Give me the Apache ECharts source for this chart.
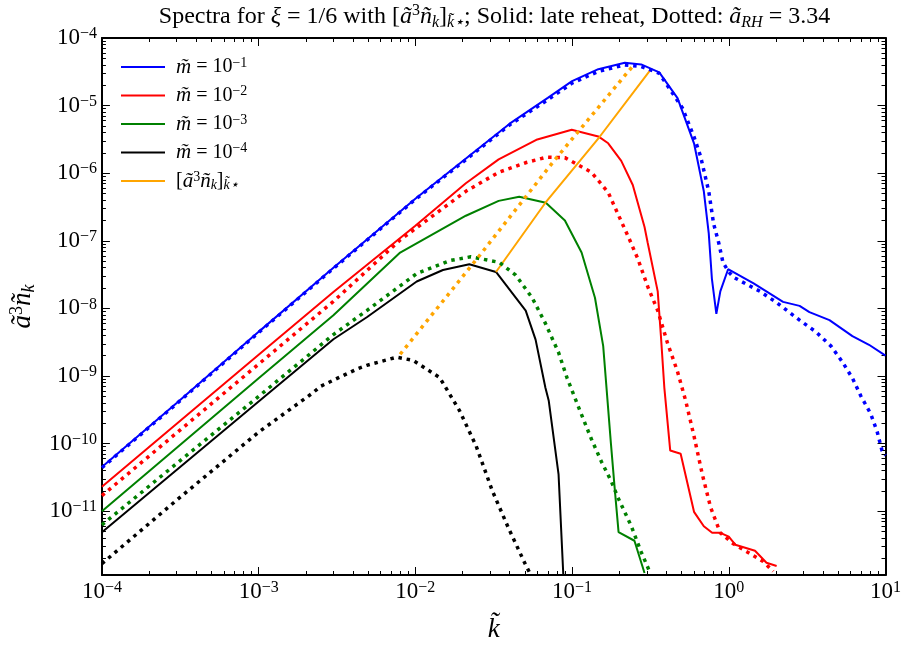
<!DOCTYPE html>
<html>
<head>
<meta charset="utf-8">
<script src="https://cdn.jsdelivr.net/npm/echarts@6/dist/echarts.min.js"></script>
<style>html,body{margin:0;padding:0;background:#fff;}#c{width:904px;height:648px;}</style>
</head>
<body>
<div id="c"></div>
<script>
// ---------------- data ----------------
const kBlueSolid = [1e-4, 3e-4, 1e-3, 3e-3, 1e-2, 2e-2, 4e-2, 0.07, 0.1, 0.147, 0.217, 0.276, 0.36, 0.471, 0.6, 0.693, 0.745, 0.78, 0.833, 0.883, 0.99, 1.44, 2.22, 2.83, 3.27, 4.39, 6.15, 7.85, 10];
const nBlueSolid = [4.5e-11, 4.0e-10, 4.5e-9, 4.0e-8, 4.2e-7, 1.5e-6, 5.4e-6, 1.3e-5, 2.3e-5, 3.46e-5, 4.3e-5, 4.07e-5, 3.1e-5, 1.29e-5, 2.77e-6, 5.4e-7, 1.29e-7, 2.77e-8, 8.3e-9, 1.79e-8, 3.8e-8, 2.35e-8, 1.25e-8, 1.09e-8, 8.8e-9, 6.7e-9, 3.9e-9, 2.9e-9, 2.0e-9];

const kBlueDot = [1e-4, 3e-4, 1e-3, 3e-3, 1e-2, 2e-2, 4e-2, 0.07, 0.1, 0.147, 0.217, 0.276, 0.36, 0.506, 0.6, 0.66, 0.745, 0.80, 0.863, 0.918, 1.0, 1.07, 1.58, 2.02, 2.83, 3.6, 4.49, 5.32, 6.15, 6.95, 8.04, 8.85, 9.5, 10];
const nBlueDot = [4.4e-11, 3.9e-10, 4.4e-9, 3.9e-8, 4.1e-7, 1.45e-6, 5.2e-6, 1.22e-5, 2.15e-5, 3.2e-5, 4.0e-5, 3.8e-5, 3.0e-5, 9.2e-6, 3.46e-6, 1.79e-6, 5.4e-7, 1.79e-7, 9.3e-8, 4.8e-8, 3.46e-8, 2.9e-8, 1.79e-8, 1.22e-8, 6.7e-9, 4.5e-9, 2.77e-9, 1.6e-9, 9.3e-10, 5.1e-10, 2.77e-10, 1.5e-10, 7.9e-11, 6.7e-11];

const kRedSolid = [1e-4, 3e-4, 1e-3, 3e-3, 1e-2, 0.021, 0.034, 0.06, 0.0995, 0.147, 0.17, 0.206, 0.244, 0.29, 0.304, 0.352, 0.369, 0.388, 0.423, 0.493, 0.6, 0.693, 0.783, 0.883, 1.0, 1.1, 1.47, 1.74, 2.02];
const nRedSolid = [2.3e-11, 1.97e-10, 2.07e-9, 1.75e-8, 1.67e-7, 7.1e-7, 1.6e-6, 3.16e-6, 4.4e-6, 3.5e-6, 2.77e-6, 1.52e-6, 6.7e-7, 1.6e-7, 9.3e-8, 1.79e-8, 3.9e-9, 6.7e-10, 7.9e-11, 7.1e-11, 9.8e-12, 6.0e-12, 4.8e-12, 4.8e-12, 4.2e-12, 3.2e-12, 2.6e-12, 1.73e-12, 1.55e-12];

const kRedDot = [1e-4, 1e-3, 3e-3, 0.008, 0.021, 0.034, 0.051, 0.069, 0.09, 0.133, 0.17, 0.196, 0.228, 0.263, 0.304, 0.352, 0.406, 0.471, 0.531, 0.6, 0.678, 0.764, 0.883, 1.07, 1.44, 1.66, 1.92];
const nRedDot = [1.7e-11, 1.5e-9, 1.27e-8, 1.03e-7, 5.4e-7, 1.03e-6, 1.44e-6, 1.73e-6, 1.7e-6, 1.03e-6, 5.2e-7, 2.5e-7, 1.16e-7, 5.4e-8, 2.1e-8, 9.3e-9, 3.1e-9, 1.16e-9, 4.3e-10, 1.29e-10, 3.5e-11, 1.16e-11, 4.8e-12, 3.3e-12, 2.2e-12, 1.8e-12, 1.29e-12];

const kGreenSolid = [1e-4, 1e-3, 3e-3, 0.008, 0.021, 0.034, 0.046, 0.068, 0.09, 0.115, 0.14, 0.158, 0.177, 0.187, 0.198, 0.25, 0.29];
const nGreenSolid = [1.0e-11, 9.3e-10, 7.9e-9, 6.7e-8, 2.35e-7, 3.9e-7, 4.5e-7, 3.65e-7, 2.0e-7, 6.7e-8, 1.44e-8, 2.77e-9, 1.0e-10, 2.2e-11, 4.9e-12, 3.66e-12, 1.22e-12];

const kGreenDot = [1e-4, 1e-3, 3e-3, 0.0049, 0.0102, 0.0166, 0.0226, 0.0343, 0.0437, 0.0556, 0.0676, 0.082, 0.093, 0.11, 0.133, 0.154, 0.178, 0.196, 0.239, 0.276, 0.312];
const nGreenDot = [6.3e-12, 5.0e-10, 4.1e-9, 9.3e-9, 3.27e-8, 5.1e-8, 5.8e-8, 4.8e-8, 3.1e-8, 1.44e-8, 6.0e-9, 2.23e-9, 9.3e-10, 3.46e-10, 1.16e-10, 5.4e-11, 2.77e-11, 1.6e-11, 6.0e-12, 2.5e-12, 1.29e-12];

const kBlackSolid = [1e-4, 1e-3, 3e-3, 0.0049, 0.0102, 0.015, 0.0221, 0.0327, 0.0506, 0.0585, 0.0676, 0.071, 0.082, 0.088];
const nBlackSolid = [4.9e-12, 4.2e-10, 3.5e-9, 7.4e-9, 2.5e-8, 3.7e-8, 4.5e-8, 3.46e-8, 9.3e-9, 3.46e-9, 6.7e-10, 4.3e-10, 3.5e-11, 1.1e-12];

const kBlackDot = [1e-4, 3e-4, 1e-3, 0.00216, 0.0025, 0.0043, 0.0049, 0.0076, 0.0097, 0.0143, 0.0191, 0.0244, 0.031, 0.0396, 0.0506, 0.055];
const nBlackDot = [1.68e-12, 1.46e-11, 1.48e-10, 5.4e-10, 7.1e-10, 1.29e-9, 1.44e-9, 1.9e-9, 1.7e-9, 9.5e-10, 3.1e-10, 9.3e-11, 2.0e-11, 5.4e-12, 1.6e-12, 1.1e-12];

const kStarSolid = [0.0327, 0.0676, 0.150, 0.319];
const nStarSolid = [3.46e-8, 3.66e-7, 3.46e-6, 3.46e-5];

const kStarDot = [0.0080, 0.025, 0.078, 0.244];
const nStarDot = [2.1e-9, 5.6e-8, 1.6e-6, 3.85e-5];

const xMajorTicks = [1e-4, 1e-3, 1e-2, 1e-1, 1, 10];
const yMajorTicks = [1e-11, 1e-10, 1e-9, 1e-8, 1e-7, 1e-6, 1e-5, 1e-4];
const legendNames = ['m1', 'm2', 'm3', 'm4', 'star'];
const legendLabels = ['{i|m\u0303} = 10{sup|\u22121}', '{i|m\u0303} = 10{sup|\u22122}', '{i|m\u0303} = 10{sup|\u22123}', '{i|m\u0303} = 10{sup|\u22124}', '[{i|\u00e3}{sup|3}{i|\u00f1}{sub|k}]{sub|k\u0303\u22c6}'];

// ---------------- chart ----------------
const FONT = '"Liberation Serif", "DejaVu Serif", serif';
const X_MIN = 1e-4, X_MAX = 10, Y_MIN = 1.14e-12, Y_MAX = 1e-4;

function minorTicks(d0, d1, lo, hi) {
  const out = [];
  for (let d = d0; d <= d1; d++) for (let m = 2; m <= 9; m++) {
    const v = m * Math.pow(10, d);
    if (v >= lo && v <= hi) out.push(v);
  }
  return out;
}
const xMinorTicks = minorTicks(-4, 0, X_MIN, X_MAX);
const yMinorTicks = minorTicks(-12, -5, Y_MIN, Y_MAX);

function powLabel(v) {
  const e = Math.round(Math.log10(v));
  return '10{sup|' + (e < 0 ? '\u2212' + (-e) : String(e)) + '}';
}
const tickRich = {
  sup: { fontFamily: FONT, fontSize: 16, lineHeight: 16, verticalAlign: 'top', color: '#000' }
};
const pairs = (ks, vs) => ks.map((k, i) => [k, vs[i]]);

function xAx(pos, major, showLine, showLabel) {
  return {
    type: 'log', logBase: 10, min: X_MIN, max: X_MAX, position: pos, gridIndex: 0,
    splitLine: { show: false },
    axisLine: { show: showLine, onZero: false, lineStyle: { color: '#000', width: 2 } },
    axisTick: { show: true, inside: true, length: major ? 8 : 4, lineStyle: { color: '#000', width: 1 },
                customValues: major ? xMajorTicks : xMinorTicks },
    axisLabel: showLabel ? { show: true, customValues: xMajorTicks, formatter: powLabel, margin: 5,
                fontFamily: FONT, fontSize: 23, lineHeight: 24, color: '#000', rich: tickRich } : { show: false },
    name: showLabel ? '{i|k\u0303}' : '', nameLocation: 'middle', nameGap: 41,
    nameTextStyle: { fontFamily: FONT, fontSize: 24, color: '#000',
                     rich: { i: { fontFamily: FONT, fontSize: 27, fontStyle: 'italic', color: '#000' } } }
  };
}
function yAx(pos, major, showLine, showLabel) {
  return {
    type: 'log', logBase: 10, min: Y_MIN, max: Y_MAX, position: pos, gridIndex: 0,
    splitLine: { show: false },
    axisLine: { show: showLine, onZero: false, lineStyle: { color: '#000', width: 2 } },
    axisTick: { show: true, inside: true, length: major ? 8 : 4, lineStyle: { color: '#000', width: 1 },
                customValues: major ? yMajorTicks : yMinorTicks },
    axisLabel: showLabel ? { show: true, customValues: yMajorTicks, formatter: powLabel, margin: 5,
                fontFamily: FONT, fontSize: 23, lineHeight: 24, color: '#000', rich: tickRich } : { show: false },
    name: showLabel ? '{i|\u00e3}{sup|3}{i|\u00f1}{sub|k}' : '', nameLocation: 'middle', nameGap: 60, nameRotate: 90,
    nameTextStyle: { fontFamily: FONT, fontSize: 24, color: '#000',
      rich: {
        i: { fontFamily: FONT, fontSize: 27, fontStyle: 'italic', color: '#000', lineHeight: 30 },
        sup: { fontFamily: FONT, fontSize: 18, lineHeight: 18, verticalAlign: 'top', color: '#000' },
        sub: { fontFamily: FONT, fontSize: 18, fontStyle: 'italic', lineHeight: 18, verticalAlign: 'bottom', color: '#000' }
      } }
  };
}

const SOLID = (c) => ({ color: c, width: 2, type: 'solid' });
const DOT = (c) => ({ color: c, width: 3.5, type: [3.5, 4.8], cap: 'butt' });
function line(name, ks, vs, color, dotted) {
  return {
    name: name, type: 'line', xAxisIndex: 0, yAxisIndex: 0,
    data: pairs(ks, vs), symbol: 'none', showSymbol: false, smooth: false,
    color: color, lineStyle: dotted ? DOT(color) : SOLID(color),
    clip: true, silent: true, animation: false, z: dotted ? 3 : 2
  };
}

const textRich = {
  i: { fontFamily: FONT, fontSize: 21, fontStyle: 'italic', color: '#000', lineHeight: 22 },
  sup: { fontFamily: FONT, fontSize: 14, lineHeight: 14, verticalAlign: 'top', color: '#000' },
  sub: { fontFamily: FONT, fontSize: 14, fontStyle: 'italic', lineHeight: 14, verticalAlign: 'bottom', color: '#000' }
};

const chart = echarts.init(document.getElementById('c'), null, { renderer: 'canvas' });
chart.setOption({
  animation: false,
  backgroundColor: '#fff',
  grid: { left: 99, right: 14, top: 38, bottom: 55, containLabel: false },
  xAxis: [xAx('bottom', true, true, true), xAx('top', true, true, false), xAx('bottom', false, false, false), xAx('top', false, false, false)],
  yAxis: [yAx('left', true, true, true), yAx('right', true, true, false), yAx('left', false, false, false), yAx('right', false, false, false)],
  legend: {
    data: legendNames, orient: 'vertical', left: 116, top: 51, itemGap: 6.5,
    itemWidth: 44, itemHeight: 14, icon: 'path://M0,6 L44,6 L44,8 L0,8 Z',
    formatter: (n) => legendLabels[legendNames.indexOf(n)],
    textStyle: { fontFamily: FONT, fontSize: 20, color: '#000', lineHeight: 22, padding: [0, 0, 0, 6], rich: textRich },
    selectedMode: false
  },
  graphic: [{
    type: 'text', x: 494.5, y: 3, silent: true,
    style: {
      text: 'Spectra for {i|\u03be} = 1/6 with [{i|\u00e3}{sup|3}{i|\u00f1}{sub|k}]{sub|k\u0303\u22c6}; Solid: late reheat, Dotted: {i|\u00e3}{sub|RH} = 3.34',
      font: '24px ' + FONT, fill: '#000', align: 'center', verticalAlign: 'top', lineHeight: 28,
      rich: {
        i: { fontFamily: FONT, fontSize: 24, fontStyle: 'italic', fill: '#000', lineHeight: 28 },
        sup: { fontFamily: FONT, fontSize: 16, lineHeight: 16, verticalAlign: 'top', fill: '#000' },
        sub: { fontFamily: FONT, fontSize: 16, fontStyle: 'italic', lineHeight: 16, verticalAlign: 'bottom', fill: '#000' }
      }
    }
  }],
  series: [
    line('m1', kBlueSolid, nBlueSolid, '#0000ff', false),
    line('m1d', kBlueDot, nBlueDot, '#0000ff', true),
    line('m2', kRedSolid, nRedSolid, '#ff0000', false),
    line('m2d', kRedDot, nRedDot, '#ff0000', true),
    line('m3', kGreenSolid, nGreenSolid, '#008000', false),
    line('m3d', kGreenDot, nGreenDot, '#008000', true),
    line('m4', kBlackSolid, nBlackSolid, '#000000', false),
    line('m4d', kBlackDot, nBlackDot, '#000000', true),
    line('star', kStarSolid, nStarSolid, '#ffa500', false),
    line('stard', kStarDot, nStarDot, '#ffa500', true)
  ]
});
</script>
</body>
</html>
